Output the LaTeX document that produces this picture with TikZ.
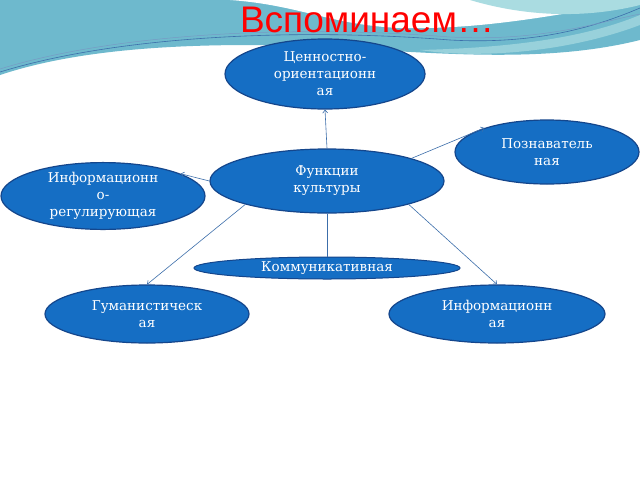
\documentclass[tikz,border=0pt]{standalone}
\usepackage{fontspec}
\setmainfont{DejaVu Serif}
\newfontfamily\titlefont{Liberation Sans}
\usetikzlibrary{arrows.meta,shapes.geometric}
\definecolor{nodeblue}{RGB}{21,110,196}
\definecolor{nodeedge}{RGB}{20,70,140}
\definecolor{teal1}{RGB}{110,185,205}
\definecolor{teal2}{RGB}{170,220,225}
\definecolor{linkblue}{RGB}{60,110,170}
\tikzset{
  fn/.style={ellipse,fill=nodeblue,draw=nodeedge,line width=1.2pt,text=white,align=center,font=\fontsize{13.5}{17}\selectfont,inner sep=0pt},
  link/.style={draw=linkblue,line width=0.6pt},
  arr/.style={link,-{Straight Barb[length=3pt,width=5pt]}}
}
\begin{document}
\begin{tikzpicture}[x=1pt,y=-1pt]
\useasboundingbox (0,0) rectangle (640,480);
\fill[white] (0,0) rectangle (640,480);
% background waves
\fill[teal1] (0,0) -- (640,0) -- (640,40) .. controls (520,70) and (380,45) .. (250,45) .. controls (140,45) and (60,55) .. (0,75) -- cycle;
\fill[white] (230,0) .. controls (300,5) and (330,25) .. (400,28) .. controls (480,30) and (560,15) .. (640,0) -- cycle;
\fill[teal2] (470,0) .. controls (520,15) and (580,20) .. (640,5) -- (640,0) -- cycle;
\fill[teal2,opacity=0.7] (640,25) .. controls (560,55) and (470,58) .. (420,50) .. controls (500,48) and (580,40) .. (640,15) -- cycle;
\draw[linkblue,line width=0.6pt] (0,72) .. controls (120,35) and (300,28) .. (450,40) .. controls (540,45) and (600,25) .. (640,8);
\draw[linkblue!70,line width=0.5pt] (0,69) .. controls (120,32) and (300,25) .. (450,37) .. controls (540,42) and (600,22) .. (640,14);
\node[text=red,font=\titlefont\fontsize{37}{39}\selectfont] (title) at (367,20) {Вспоминаем…};
% nodes
\node[fn,minimum width=200pt,minimum height=70pt] (val) at (325,74) {Ценностно-\\ориентационн\\ая};
\node[fn,minimum width=184pt,minimum height=64pt] (poz) at (547,152) {Познаватель\\ная};
\node[fn,minimum width=234pt,minimum height=64pt] (fun) at (327,181) {Функции\\культуры};
\node[fn,minimum width=204pt,minimum height=64pt] (reg) at (103,196) {Информационн\\о-\\регулирующая};
\node[fn,minimum width=266pt,minimum height=22pt,line width=1pt] (kom) at (327,268) {Коммуникативная};
\node[fn,minimum width=204pt,minimum height=58pt] (gum) at (147,314) {Гуманистическ\\ая};
\node[fn,minimum width=216pt,minimum height=58pt] (inf) at (497,314) {Информационн\\ая};
% connectors
\draw[arr] (fun.north) -- (val.south);
\draw[arr] (fun.15) -- (poz.159);
\draw[arr] (fun.west) -- (reg.16);
\draw[arr] (fun.196) -- (gum.north);
\draw[arr] (fun.344) -- (inf.north);
\draw[link] (fun.south) -- (kom.north);
\end{tikzpicture}
\end{document}
